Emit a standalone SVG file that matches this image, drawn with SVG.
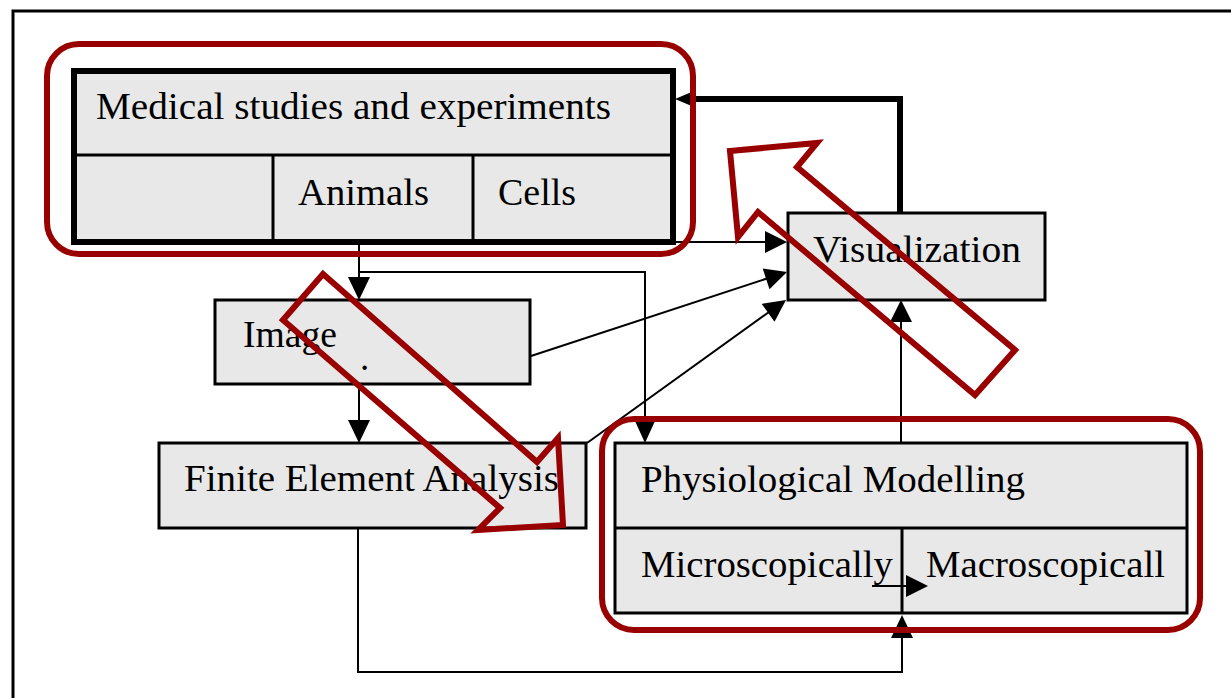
<svg xmlns="http://www.w3.org/2000/svg" width="1231" height="698" viewBox="0 0 1231 698">
<style>
.box{fill:#e8e8e8;stroke:#000;stroke-width:3}
.div{stroke:#000;stroke-width:3}
.t{font-family:"Liberation Serif","Times New Roman",serif;font-size:37px;fill:#000}
.c{fill:none;stroke:#000;stroke-width:2}
.ah{fill:#000;stroke:none}
.red{fill:none;stroke:#990000;stroke-width:6;stroke-linejoin:miter}
</style>
<rect width="1231" height="698" fill="#fff"/>
<path d="M13,698 V11 H1231" fill="none" stroke="#000" stroke-width="3"/>

<g id="medical">
<rect x="74" y="71" width="599" height="171" fill="#e8e8e8" stroke="#000" stroke-width="6"/>
<line class="div" x1="74" y1="155" x2="673" y2="155"/>
<line class="div" x1="273" y1="155" x2="273" y2="242"/>
<line class="div" x1="473" y1="155" x2="473" y2="242"/>
<text class="t" x="96" y="119" textLength="515" lengthAdjust="spacingAndGlyphs">Medical studies and experiments</text>
<text class="t" x="298" y="205" textLength="131" lengthAdjust="spacingAndGlyphs">Animals</text>
<text class="t" x="498" y="205" textLength="78" lengthAdjust="spacingAndGlyphs">Cells</text>
</g>

<g id="visualization">
<rect class="box" x="788" y="213" width="257" height="87"/>
<text class="t" x="813" y="262" textLength="208" lengthAdjust="spacingAndGlyphs">Visualization</text>
</g>

<g id="image">
<rect class="box" x="215" y="300" width="315" height="84"/>
<text class="t" x="243" y="347" textLength="94" lengthAdjust="spacingAndGlyphs">Image</text>
<text class="t" x="360" y="370">.</text>
</g>

<g id="fea">
<rect class="box" x="159" y="443" width="427" height="85"/>
<text class="t" x="184" y="491" textLength="375" lengthAdjust="spacingAndGlyphs">Finite Element Analysis</text>
</g>

<g id="physio">
<rect class="box" x="615" y="443" width="572" height="170"/>
<line class="div" x1="615" y1="528" x2="1187" y2="528"/>
<line class="div" x1="902" y1="528" x2="902" y2="613"/>
<text class="t" x="641" y="492" textLength="384" lengthAdjust="spacingAndGlyphs">Physiological Modelling</text>
<text class="t" x="641" y="577" textLength="252" lengthAdjust="spacingAndGlyphs">Microscopically</text>
<text class="t" x="926" y="577" textLength="239" lengthAdjust="spacingAndGlyphs">Macroscopicall</text>
</g>

<g id="connectors">
<path d="M900,213 V99 H690" fill="none" stroke="#000" stroke-width="6"/>
<polygon class="ah" points="675,99 694,91 694,107"/>
<path class="c" d="M676,242 H766"/>
<polygon class="ah" points="787,242 765,231 765,253"/>
<path class="c" d="M359,245 V278"/>
<polygon class="ah" points="359,300 348,277 370,277"/>
<path class="c" d="M359,272 H645 V422"/>
<polygon class="ah" points="645,443 635,421 655,421"/>
<path class="c" d="M359,385 V421"/>
<polygon class="ah" points="359,443 348,420 370,420"/>
<path class="c" d="M531,356 L767,278.5"/>
<polygon class="ah" points="787,272 769.5,289.3 762.7,268.5"/>
<path class="c" d="M587,443 L769,312"/>
<polygon class="ah" points="786,300 774.5,321.7 761.7,303.9"/>
<path class="c" d="M901,443 V321"/>
<polygon class="ah" points="901,300 890,322 912,322"/>
<path class="c" d="M358,528 V672 H902 V637"/>
<polygon class="ah" points="902,615 891,638 913,638"/>
<path class="c" d="M872,586 H907"/>
<polygon class="ah" points="928,586 906,575 906,597"/>
</g>

<g id="annotations">
<rect class="red" x="47" y="44" width="646" height="210" rx="32"/>
<rect class="red" x="602" y="419" width="598" height="211" rx="32"/>
<polygon class="red" points="323,274 537,462 558,438 563,525 478,530 500,508 283,320"/>
<polygon class="red" points="730,151 817,143 797,167 1015,350 975,395 758,212 738,237"/>
</g>
</svg>
